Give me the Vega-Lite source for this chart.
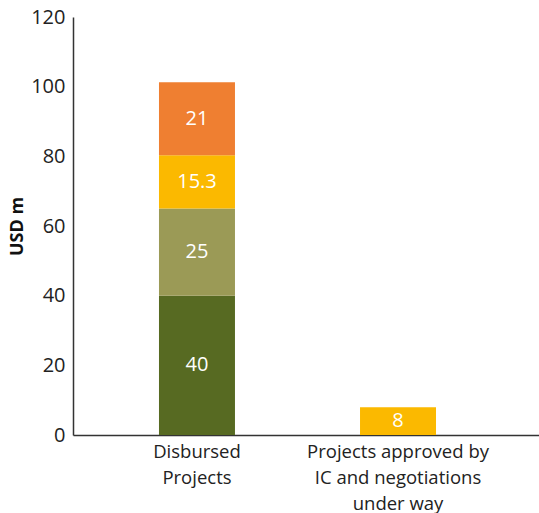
{
  "$schema": "https://vega.github.io/schema/vega-lite/v6.json",
  "autosize": {"type": "none"},
  "padding": {"left": 73, "top": 17, "right": 0, "bottom": 78},
  "width": 466,
  "height": 418,
  "background": "white",
  "config": {"view": {"stroke": null}, "font": "Open Sans"},
  "data": {
    "values": [
      {"cat": "Disbursed Projects", "series": "a", "ord": 1, "v": 40, "lbl": "40"},
      {"cat": "Disbursed Projects", "series": "b", "ord": 2, "v": 25, "lbl": "25"},
      {"cat": "Disbursed Projects", "series": "c", "ord": 3, "v": 15.3, "lbl": "15.3"},
      {"cat": "Disbursed Projects", "series": "d", "ord": 4, "v": 21, "lbl": "21"},
      {"cat": "Projects approved by IC and negotiations under way", "series": "c", "ord": 3, "v": 8, "lbl": "8"}
    ]
  },
  "transform": [
    {"stack": "v", "groupby": ["cat"], "sort": [{"field": "ord", "order": "ascending"}], "as": ["y0", "y1"]},
    {"calculate": "(datum.y0 + datum.y1) / 2", "as": "ymid"}
  ],
  "encoding": {
    "x": {
      "field": "cat",
      "type": "nominal",
      "sort": null,
      "scale": {"paddingInner": 0.622, "paddingOuter": 0.47, "align": 0.455},
      "axis": {
        "title": null,
        "labelAngle": 0,
        "ticks": false,
        "domainColor": "#333",
        "domainWidth": 1.5,
        "labelFontSize": 18.5,
        "labelColor": "#222",
        "labelPadding": 7,
        "labelLimit": 400,
        "labelLineHeight": 26,
        "labelBaseline": "top",
        "labelExpr": "datum.value == 'Disbursed Projects' ? ['Disbursed', 'Projects'] : ['Projects approved by', 'IC and negotiations', 'under way']"
      }
    }
  },
  "layer": [
    {
      "mark": {"type": "bar"},
      "encoding": {
        "y": {
          "field": "y0",
          "type": "quantitative",
          "scale": {"domain": [0, 120], "nice": false},
          "axis": {
            "title": "USD m",
            "titleFontSize": 18,
            "titleFontWeight": "bold",
            "titleColor": "#111",
            "titlePadding": 4,
            "values": [0, 20, 40, 60, 80, 100, 120],
            "ticks": false,
            "grid": false,
            "domainColor": "#333",
            "domainWidth": 1.5,
            "labelFontSize": 20,
            "labelColor": "#222",
            "labelPadding": 8
          }
        },
        "y2": {"field": "y1"},
        "color": {
          "field": "series",
          "type": "nominal",
          "legend": null,
          "scale": {"domain": ["a", "b", "c", "d"], "range": ["#576a22", "#9b9a56", "#fbb900", "#ef7f31"]}
        }
      }
    },
    {
      "mark": {"type": "text", "color": "white", "fontSize": 20, "baseline": "middle", "align": "center"},
      "encoding": {
        "y": {"field": "ymid", "type": "quantitative"},
        "text": {"field": "lbl", "type": "nominal"}
      }
    }
  ]
}
